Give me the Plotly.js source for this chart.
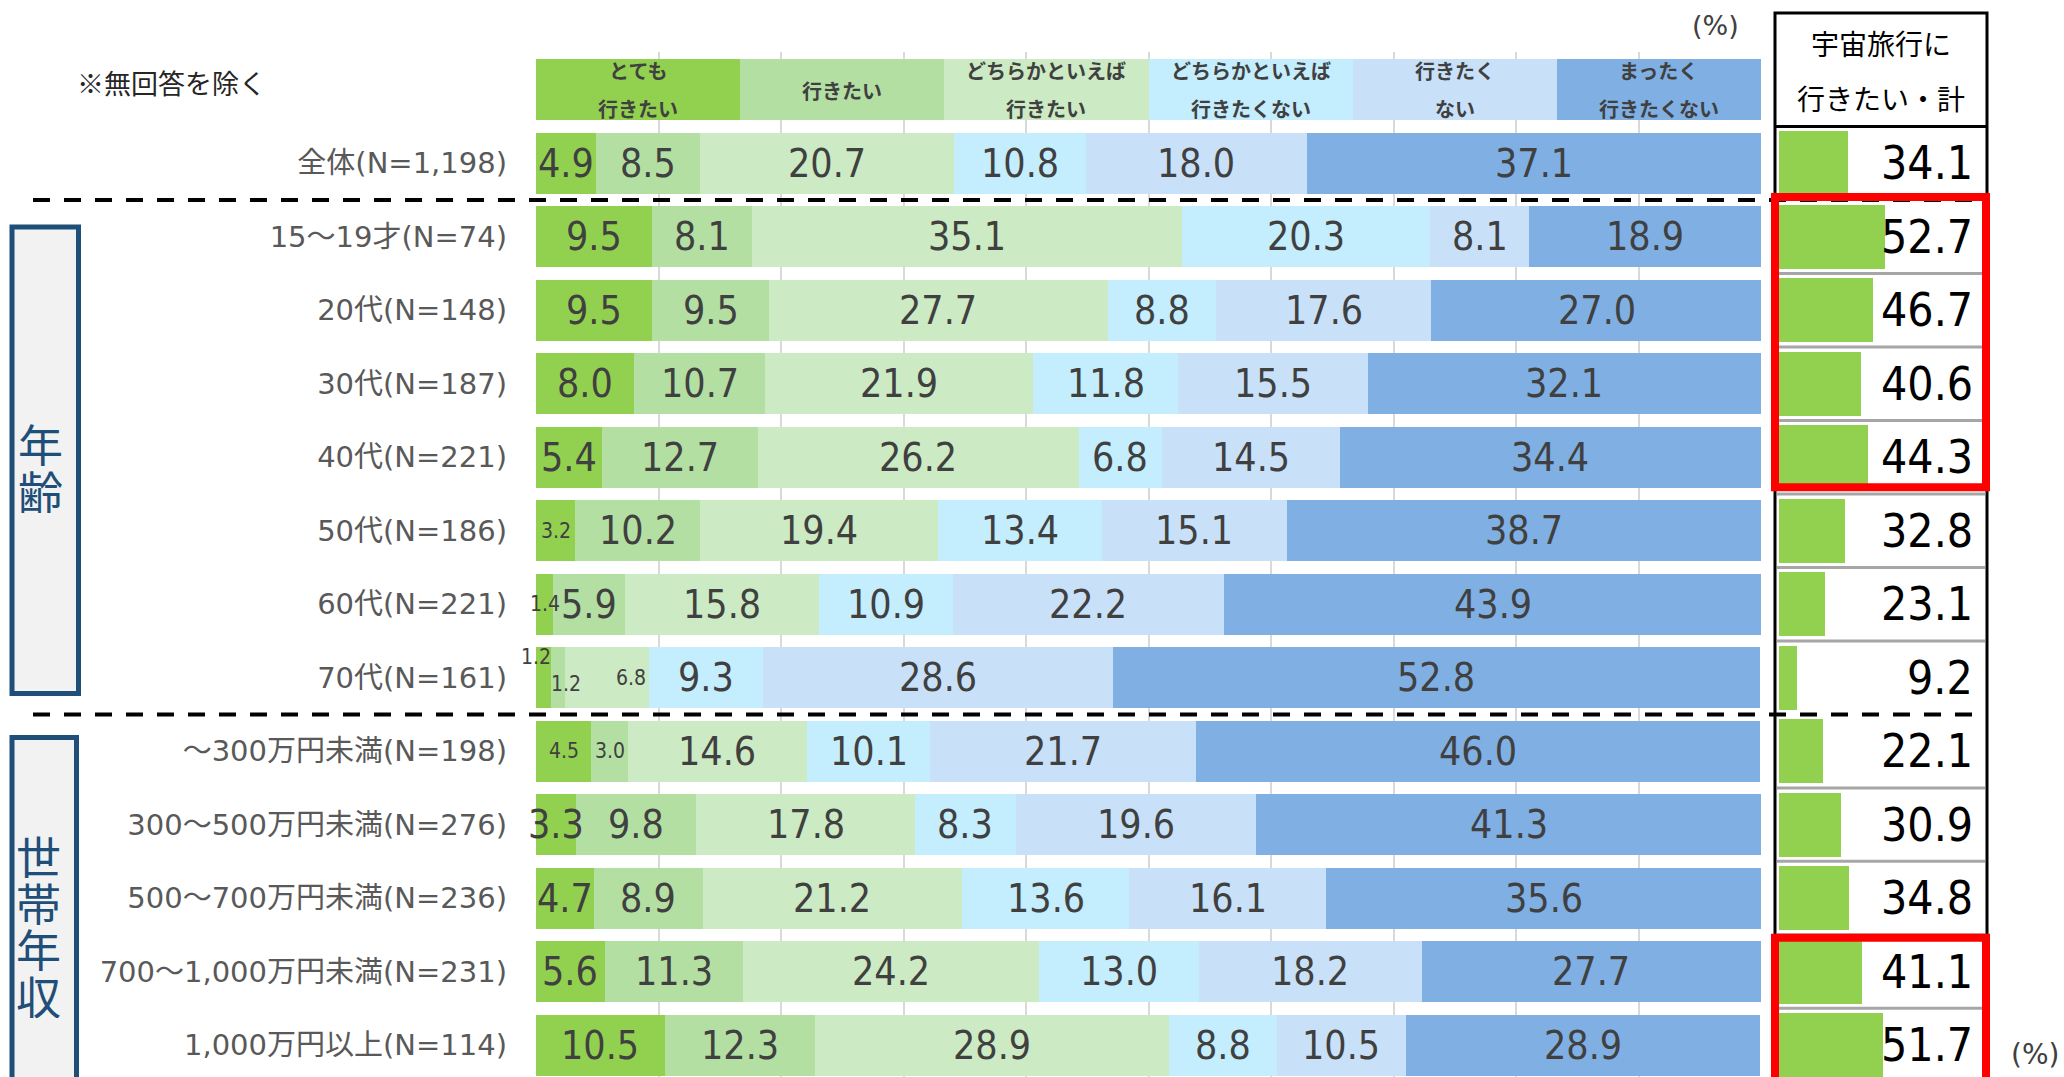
<!DOCTYPE html>
<html><head><meta charset="utf-8">
<script src="https://cdn.plot.ly/plotly-3.0.1.min.js"></script>
<style>html,body{margin:0;padding:0;background:#fff;}</style>
</head><body><div id="chart" style="width:2064px;height:1077px;"></div>
<script>
// ---------------- DATA ----------------
const categories = [
  "全体(N=1,198)", "15～19才(N=74)", "20代(N=148)", "30代(N=187)", "40代(N=221)",
  "50代(N=186)", "60代(N=221)", "70代(N=161)", "～300万円未満(N=198)",
  "300～500万円未満(N=276)", "500～700万円未満(N=236)", "700～1,000万円未満(N=231)",
  "1,000万円以上(N=114)"
];
const seriesHeaders = [
  ["とても", "行きたい"], ["行きたい"], ["どちらかといえば", "行きたい"],
  ["どちらかといえば", "行きたくない"], ["行きたく", "ない"], ["まったく", "行きたくない"]
];
const veryWant   = [4.9, 9.5, 9.5, 8.0, 5.4, 3.2, 1.4, 1.2, 4.5, 3.3, 4.7, 5.6, 10.5];
const want       = [8.5, 8.1, 9.5, 10.7, 12.7, 10.2, 5.9, 1.2, 3.0, 9.8, 8.9, 11.3, 12.3];
const ratherWant = [20.7, 35.1, 27.7, 21.9, 26.2, 19.4, 15.8, 6.8, 14.6, 17.8, 21.2, 24.2, 28.9];
const ratherNot  = [10.8, 20.3, 8.8, 11.8, 6.8, 13.4, 10.9, 9.3, 10.1, 8.3, 13.6, 13.0, 8.8];
const notWant    = [18.0, 8.1, 17.6, 15.5, 14.5, 15.1, 22.2, 28.6, 21.7, 19.6, 16.1, 18.2, 10.5];
const notAtAll   = [37.1, 18.9, 27.0, 32.1, 34.4, 38.7, 43.9, 52.8, 46.0, 41.3, 35.6, 27.7, 28.9];
const totalWant  = [34.1, 52.7, 46.7, 40.6, 44.3, 32.8, 23.1, 9.2, 22.1, 30.9, 34.8, 41.1, 51.7];
const panelTitle = ["宇宙旅行に", "行きたい・計"];
const groupAge = ["年", "齢"];
const groupIncome = ["世", "帯", "年", "収"];
const noteText = "※無回答を除く";
const unitText = "(%)";

// ---------------- STYLE ----------------
const series = [veryWant, want, ratherWant, ratherNot, notWant, notAtAll];
const colors = ["#92d050", "#b3dfa2", "#cceac3", "#c4edfd", "#c8e1f8", "#7fafe3"];
const W = 2064, H = 1077;
const px = x => x / W;
const py = y => 1 - y / H;
const numFont = "DejaVu Sans Condensed, DejaVu Sans, sans-serif";
const jpFont = "DejaVu Sans, Noto Sans CJK JP, sans-serif";
const cjkFont = "Noto Sans CJK JP, sans-serif";
const rowPos = categories.map((c, i) => i + 1);

// special small / shifted labels: key "row,series"
const special = {
  "5,0": {size: 21},
  "6,0": {size: 21},
  "7,0": {size: 21, dx: -7, dy: 21},
  "7,1": {size: 21, dx: 8, dy: -6},
  "7,2": {size: 21, anchor: "end"},
  "8,0": {size: 21},
  "8,1": {size: 21}
};

const traces = [];
const hdrW = 100 / series.length;
series.forEach((vals, k) => {
  traces.push({
    type: "bar", orientation: "h",
    x: [hdrW].concat(vals), y: [0].concat(rowPos),
    marker: {color: colors[k], line: {width: 0}},
    width: 0.83, xaxis: "x", yaxis: "y", hoverinfo: "skip", showlegend: false
  });
});
traces.push({
  type: "bar", orientation: "h", x: totalWant, y: rowPos,
  marker: {color: "#92d050", line: {width: 0}}, width: 0.87,
  xaxis: "x2", yaxis: "y", hoverinfo: "skip", showlegend: false
});

const annotations = [];
function paperText(x, y, text, size, color, family, xanchor, boxH) {
  const a = {xref: "paper", yref: "paper", x: px(x), y: py(y), text: text,
    xanchor: xanchor || "center", yanchor: "middle", showarrow: false,
    font: {family: family || cjkFont, size: size, color: color}};
  if (boxH) { a.height = boxH; a.valign = "middle"; }
  annotations.push(a);
}
// value labels
categories.forEach((c, r) => {
  let cum = 0;
  series.forEach((vals, k) => {
    const v = vals[r];
    const sp = special[r + "," + k] || {};
    const a = {
      xref: "x", yref: "y", y: r + 1, yanchor: "middle", text: v.toFixed(1), showarrow: false,
      font: {family: numFont, size: sp.size || 39, color: "#404040"},
      xshift: sp.dx || 0, yshift: sp.dy || 0
    };
    if (sp.anchor === "end") { a.x = cum + v; a.xanchor = "right"; a.xshift = -1; }
    else { a.x = cum + v / 2; a.xanchor = "center"; }
    annotations.push(a);
    cum += v;
  });
  annotations.push({
    xref: "paper", yref: "y", x: px(1975), y: r + 1, xanchor: "right", yanchor: "middle",
    text: totalWant[r].toFixed(1), showarrow: false,
    font: {family: numFont, size: 46, color: "#000"}
  });
});
// header cells
seriesHeaders.forEach((lines, k) => {
  const cx = (k + 0.5) * hdrW;
  const offs = lines.length === 2 ? [19, -19] : [-1];
  lines.forEach((t, j) => annotations.push({
    xref: "x", yref: "y", x: cx, y: 0, yshift: offs[j], text: "<b>" + t + "</b>",
    xanchor: "center", yanchor: "middle",
    showarrow: false, font: {family: cjkFont, size: 20, color: "#404040"}
  }));
});
// panel title
panelTitle.forEach((t, j) => paperText(1881, j === 0 ? 43 : 98, t, 28, "#000"));
// group labels (stacked vertical characters)
groupAge.forEach((t, j) => paperText(40, 443 + j * 47, t, 45, "#1f4e79", cjkFont, "center", 46));
groupIncome.forEach((t, j) => paperText(38, 855 + j * 46.5, t, 45, "#1f4e79", cjkFont, "center", 46));
paperText(75, 82, noteText, 27, "#262626", cjkFont, "left");
paperText(1715, 25, unitText, 27, "#404040", jpFont);
paperText(2035, 1054, unitText, 28, "#404040", jpFont);

const shapes = [];
// group boxes
shapes.push({type: "rect", xref: "paper", yref: "paper", x0: px(12), x1: px(78.5), y0: py(227), y1: py(693.5),
  fillcolor: "#f2f2f2", line: {color: "#1f4e79", width: 5}, layer: "below"});
shapes.push({type: "rect", xref: "paper", yref: "paper", x0: px(12), x1: px(76.5), y0: py(737.5), y1: py(1110),
  fillcolor: "#f2f2f2", line: {color: "#1f4e79", width: 5}, layer: "below"});
// panel row separators
[2.5, 3.5, 4.5, 5.5, 6.5, 7.5, 9.5, 10.5, 11.5, 12.5].forEach(yv => shapes.push({
  type: "line", xref: "paper", yref: "y", x0: px(1777), x1: px(1985), y0: yv, y1: yv,
  line: {color: "#a6a6a6", width: 3}
}));
// dashed separators
[1.5, 8.5].forEach(yv => shapes.push({
  type: "line", xref: "paper", yref: "y", x0: px(33), x1: px(1987), y0: yv, y1: yv,
  line: {color: "#000", width: 4, dash: "17px,14px"}
}));
// panel frame
shapes.push({type: "rect", xref: "paper", yref: "paper", x0: px(1775), x1: px(1987), y0: py(13), y1: py(1110),
  line: {color: "#000", width: 3}, fillcolor: "rgba(0,0,0,0)"});
shapes.push({type: "line", xref: "paper", yref: "y", x0: px(1775), x1: px(1987), y0: 0.5, y1: 0.5,
  line: {color: "#000", width: 3}});
// red highlight boxes
shapes.push({type: "rect", xref: "paper", yref: "y", x0: px(1775), x1: px(1986), y0: 1.46, y1: 5.41,
  line: {color: "#ff0000", width: 8}, fillcolor: "rgba(0,0,0,0)"});
shapes.push({type: "rect", xref: "paper", yref: "y", x0: px(1775), x1: px(1986), y0: 11.54, y1: 13.8,
  line: {color: "#ff0000", width: 8}, fillcolor: "rgba(0,0,0,0)"});

const layout = {
  width: W, height: H, margin: {l: 0, r: 0, t: 0, b: 0},
  paper_bgcolor: "#fff", plot_bgcolor: "rgba(0,0,0,0)",
  barmode: "stack", bargap: 0, showlegend: false,
  xaxis: {domain: [px(536), px(1761)], range: [0, 100], dtick: 10, showgrid: true,
    gridcolor: "#d9d9d9", gridwidth: 2, zeroline: false, showticklabels: false, ticks: "",
    fixedrange: true},
  xaxis2: {domain: [px(1779), px(1980)], range: [0, 100], anchor: "y", visible: false,
    showgrid: false, zeroline: false, fixedrange: true},
  yaxis: {domain: [0, 1025 / H], range: [13.434, -0.513], tickvals: rowPos, ticktext: categories,
    tickfont: {family: jpFont, size: 29, color: "#595959"}, ticks: "", showgrid: false,
    zeroline: false, ticklabelstandoff: 28, fixedrange: true},
  annotations: annotations, shapes: shapes,
  font: {family: jpFont}
};
Plotly.newPlot("chart", traces, layout, {displayModeBar: false, staticPlot: true});
</script></body></html>
